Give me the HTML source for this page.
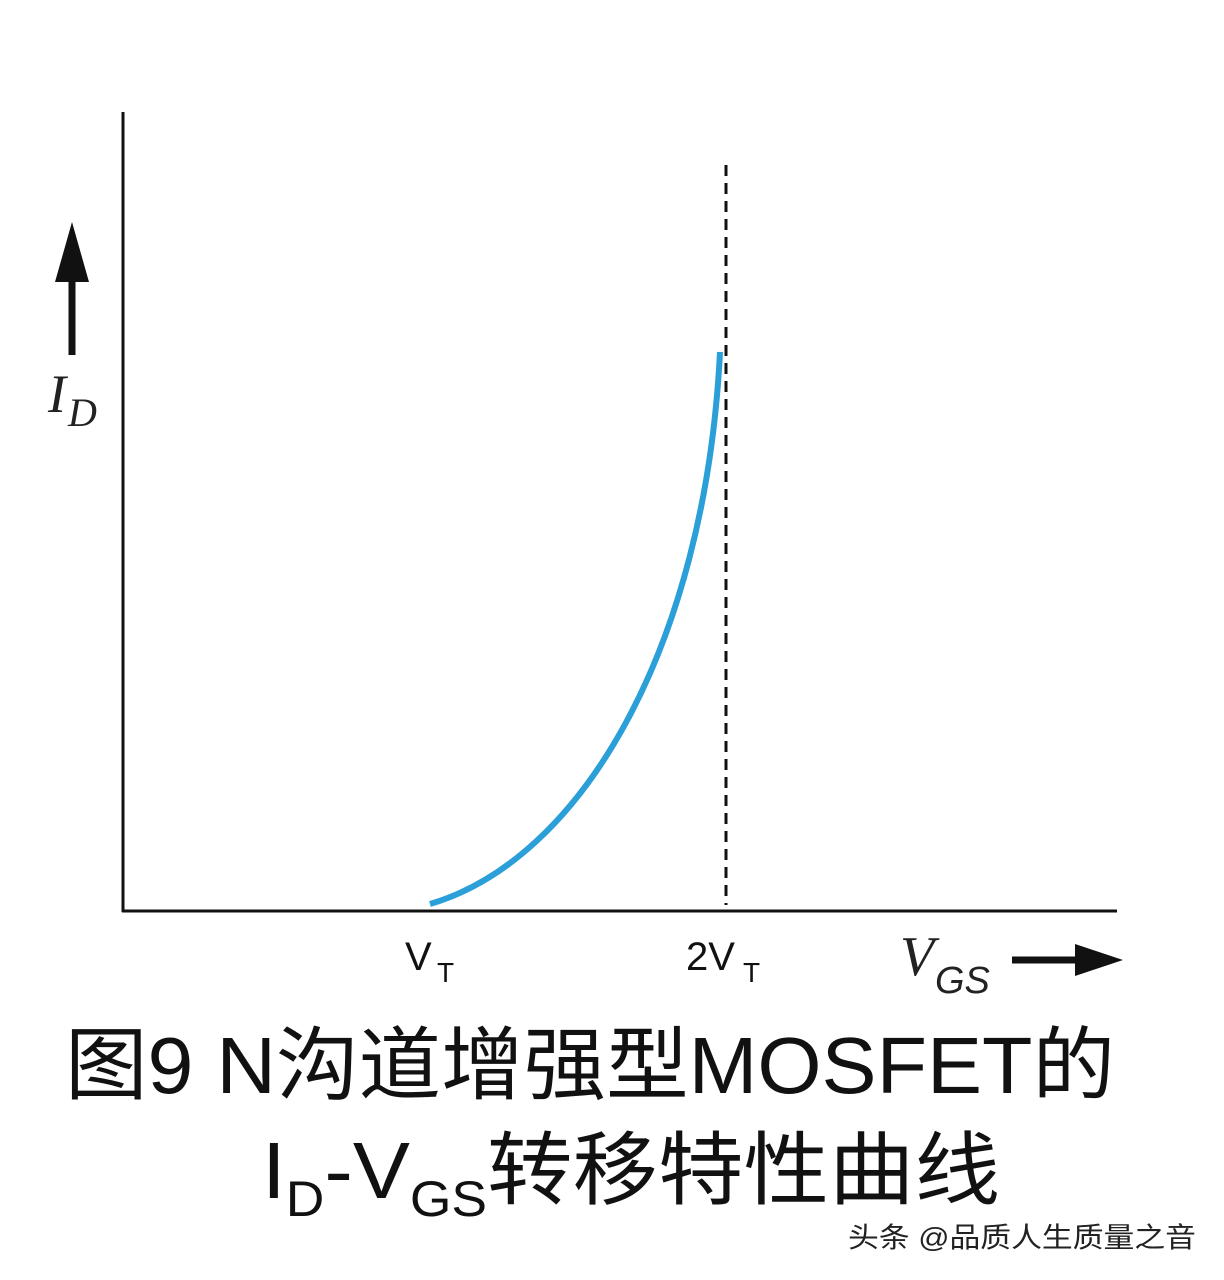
<!DOCTYPE html>
<html><head><meta charset="utf-8"><style>
html,body{margin:0;padding:0;background:#fff;}
svg{display:block}
</style></head><body>
<svg width="1224" height="1280" viewBox="0 0 1224 1280" xmlns="http://www.w3.org/2000/svg">
<rect width="1224" height="1280" fill="#fff"/>
<line x1="123" y1="112" x2="123" y2="912" stroke="#111" stroke-width="3"/>
<line x1="122" y1="911" x2="1117" y2="911" stroke="#111" stroke-width="3"/>
<line x1="726" y1="165" x2="726" y2="905" stroke="#111" stroke-width="3" stroke-dasharray="11,7"/>
<path d="M430 904 C580 860 705 650 720 352" fill="none" stroke="#2a9fd8" stroke-width="6"/>
<line x1="72" y1="355" x2="72" y2="270" stroke="#111" stroke-width="7"/>
<polygon points="55,282 89,282 72,222" fill="#111"/>
<text x="48" y="412" font-family="Liberation Serif,serif" font-style="italic" font-size="54" fill="#222">I</text>
<text x="68" y="426" font-family="Liberation Serif,serif" font-style="italic" font-size="40" fill="#222">D</text>
<text x="405" y="970" font-family="Liberation Sans,sans-serif" font-size="40" fill="#111">V</text>
<text x="437" y="982" font-family="Liberation Sans,sans-serif" font-size="28" fill="#111">T</text>
<text x="686" y="970" font-family="Liberation Sans,sans-serif" font-size="40" fill="#111">2V</text>
<text x="743" y="982" font-family="Liberation Sans,sans-serif" font-size="28" fill="#111">T</text>
<text x="900" y="975" font-family="Liberation Serif,serif" font-style="italic" font-size="56" fill="#222">V</text>
<text x="935" y="993" font-family="Liberation Sans,sans-serif" font-style="italic" font-size="38" fill="#222">GS</text>
<line x1="1012" y1="960" x2="1080" y2="960" stroke="#111" stroke-width="7"/>
<polygon points="1075,944 1075,976 1123,960" fill="#111"/>
<text x="65" y="1093" font-family="Liberation Sans,'Noto Sans CJK SC',sans-serif" font-size="80" fill="#111" textLength="1050" lengthAdjust="spacingAndGlyphs">图9 N沟道增强型MOSFET的</text>
<text x="262" y="1198" font-family="Liberation Sans,'Noto Sans CJK SC',sans-serif" font-size="80" fill="#111" textLength="738" lengthAdjust="spacingAndGlyphs">I<tspan font-size="50" dy="18">D</tspan><tspan dy="-18">-V</tspan><tspan font-size="50" dy="18">GS</tspan><tspan dy="-18">转移特性曲线</tspan></text>
<text x="848" y="1247" font-family="Liberation Sans,'Noto Sans CJK SC',sans-serif" font-size="28" fill="#222" textLength="348" lengthAdjust="spacingAndGlyphs">头条 @品质人生质量之音</text>
</svg>
</body></html>
